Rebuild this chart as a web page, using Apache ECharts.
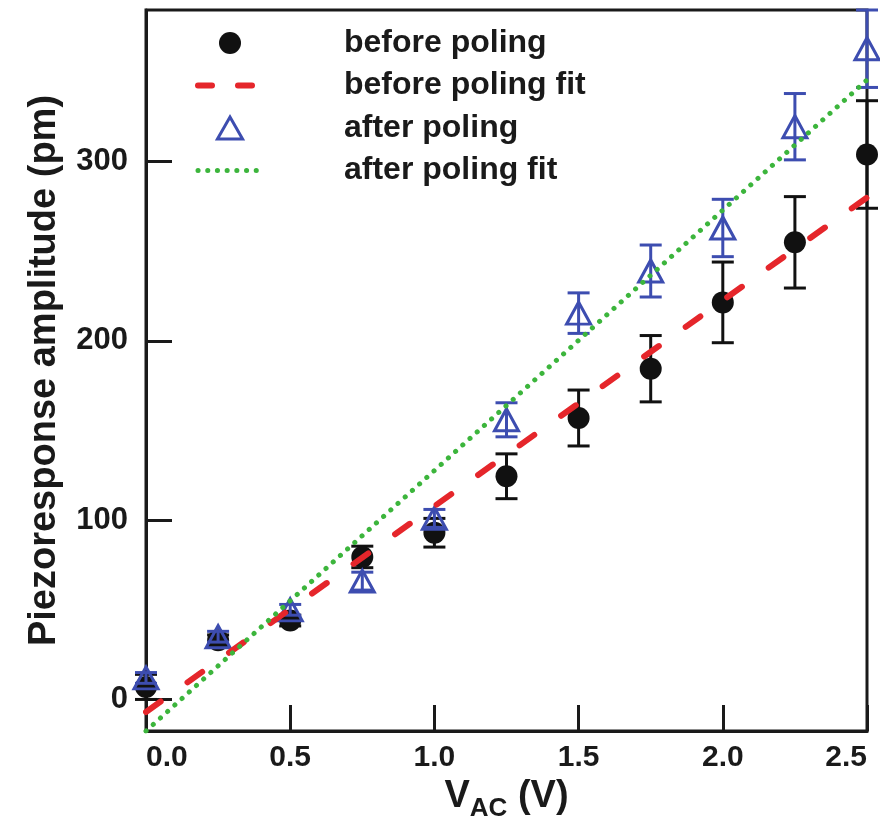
<!DOCTYPE html>
<html>
<head>
<meta charset="utf-8">
<script src="https://cdn.jsdelivr.net/npm/echarts@6/dist/echarts.min.js"></script>
<style>html,body{margin:0;padding:0;background:#fff}#c{width:880px;height:830px}</style>
</head>
<body>
<div id="c"></div>
<script>
// ---- data ----
const vac = [0, 0.25, 0.5, 0.75, 1.0, 1.25, 1.5, 1.75, 2.0, 2.25, 2.5];
const beforeY   = [7, 33, 44, 79.5, 93, 124.5, 157, 184.5, 221.5, 255, 304];
const beforeErr = [7, 3, 3, 6, 8, 12.5, 15.6, 18.5, 22.5, 25.5, 30];
const afterY    = [12, 35, 50, 66, 101, 156, 215.5, 239, 263, 319.5, 363];
const afterErr  = [3, 3, 3, 5, 5, 9.5, 11.3, 14.5, 16, 18.5, 21.6];
const beforeFitX = [0, 2.5];
const beforeFitY = [-7, 280];
const afterFitX  = [0, 2.5];
const afterFitY  = [-17.6, 345.6];
const yTicks = [0, 100, 200, 300];
const seriesNames = ['before poling', 'before poling fit', 'after poling', 'after poling fit'];

const FONT = "'Liberation Sans', Arial, Helvetica, sans-serif";
const BLACK = '#111111', BLUE = '#3d4db0', RED = '#e5262b', GREEN = '#3cb53c';

function errRender(color) {
  return function (params, api) {
    const x = api.value(0), lo = api.value(1), hi = api.value(2);
    const a = api.coord([x, lo]), b = api.coord([x, hi]);
    const hw = 11;
    const st = { stroke: color, lineWidth: 3 };
    return { type: 'group', children: [
      { type: 'line', shape: { x1: a[0], y1: a[1], x2: b[0], y2: b[1] }, style: st },
      { type: 'line', shape: { x1: a[0] - hw, y1: a[1], x2: a[0] + hw, y2: a[1] }, style: st },
      { type: 'line', shape: { x1: b[0] - hw, y1: b[1], x2: b[0] + hw, y2: b[1] }, style: st }
    ]};
  };
}

const chart = echarts.init(document.getElementById('c'), null, { renderer: 'canvas' });
chart.setOption({
  animation: false,
  backgroundColor: '#ffffff',
  grid: { left: 146, right: 13, top: 10, bottom: 99, show: true, borderColor: '#1a1a1a', borderWidth: 3 },
  legend: {
    orient: 'vertical', left: 190, top: 22,
    itemWidth: 64, itemHeight: 22, itemGap: 10.5,
    data: [
      { name: seriesNames[0] },
      { name: seriesNames[1], itemStyle: { opacity: 0 }, lineStyle: { color: RED, type: [14, 26], width: 6, cap: 'round' } },
      { name: seriesNames[2], icon: 'path://M12,0 L24,21 L0,21 Z', itemStyle: { color: 'rgba(255,255,255,0)', borderColor: BLUE, borderWidth: 3 } },
      { name: seriesNames[3], itemStyle: { opacity: 0 }, lineStyle: { color: GREEN, type: [0.1, 9.6], width: 5, cap: 'round' } }
    ],
    textStyle: { fontFamily: FONT, fontSize: 32, fontWeight: 'bold', color: '#1a1a1a', lineHeight: 32, padding: [0, 0, 0, 77] }
  },
  xAxis: {
    type: 'value', min: 0, max: 2.5, interval: 0.5,
    axisLine: { onZero: false, lineStyle: { color: '#1a1a1a', width: 3 } },
    axisTick: { inside: true, length: 26, lineStyle: { color: '#1a1a1a', width: 3 } },
    splitLine: { show: false },
    axisLabel: {
      margin: 12, fontFamily: FONT, fontSize: 30, fontWeight: 'bold', color: '#1a1a1a',
      formatter: v => v.toFixed(1), alignMinLabel: 'left', alignMaxLabel: 'right'
    },
    name: '{v|V}{s|AC}{v| (V)}',
    nameLocation: 'middle', nameGap: 40,
    nameTextStyle: {
      rich: {
        v: { fontFamily: FONT, fontSize: 38, fontWeight: 'bold', color: '#1a1a1a', lineHeight: 50 },
        s: { fontFamily: FONT, fontSize: 26, fontWeight: 'bold', color: '#1a1a1a', lineHeight: 24, verticalAlign: 'bottom' }
      }
    }
  },
  yAxis: {
    type: 'value', min: -17.6, max: 384.6,
    axisLine: { onZero: false, lineStyle: { color: '#1a1a1a', width: 3 } },
    axisTick: { inside: true, length: 26, customValues: yTicks, lineStyle: { color: '#1a1a1a', width: 3 } },
    splitLine: { show: false },
    axisLabel: { margin: 18, customValues: yTicks, fontFamily: FONT, fontSize: 31, fontWeight: 'bold', color: '#1a1a1a' },
    name: 'Piezoresponse amplitude (pm)',
    nameLocation: 'middle', nameGap: 82,
    nameTextStyle: { fontFamily: FONT, fontSize: 38, fontWeight: 'bold', color: '#1a1a1a' }
  },
  series: [
    { type: 'custom', name: 'before err', renderItem: errRender(BLACK), clip: false, z: 2,
      data: vac.map((x, i) => [x, beforeY[i] - beforeErr[i], beforeY[i] + beforeErr[i]]) },
    { type: 'scatter', name: seriesNames[0], symbol: 'circle', symbolSize: 22, z: 3,
      itemStyle: { color: BLACK, opacity: 1 },
      data: vac.map((x, i) => [x, beforeY[i]]) },
    { type: 'custom', name: 'after err', renderItem: errRender(BLUE), clip: false, z: 4,
      data: vac.map((x, i) => [x, afterY[i] - afterErr[i], afterY[i] + afterErr[i]]) },
    { type: 'scatter', name: seriesNames[2], symbol: 'triangle', symbolSize: [24, 22], z: 5,
      itemStyle: { color: 'rgba(255,255,255,0)', borderColor: BLUE, borderWidth: 3, opacity: 1 },
      data: vac.map((x, i) => [x, afterY[i]]) },
    { type: 'line', name: seriesNames[1], symbol: 'none', z: 6, clip: true,
      itemStyle: { color: RED },
      lineStyle: { color: RED, width: 6, type: [18, 33], cap: 'round' },
      data: beforeFitX.map((x, i) => [x, beforeFitY[i]]) },
    { type: 'line', name: seriesNames[3], symbol: 'none', z: 7, clip: true,
      itemStyle: { color: GREEN },
      lineStyle: { color: GREEN, width: 5, type: [0.1, 9.6], cap: 'round' },
      data: afterFitX.map((x, i) => [x, afterFitY[i]]) }
  ]
});
</script>
</body>
</html>
